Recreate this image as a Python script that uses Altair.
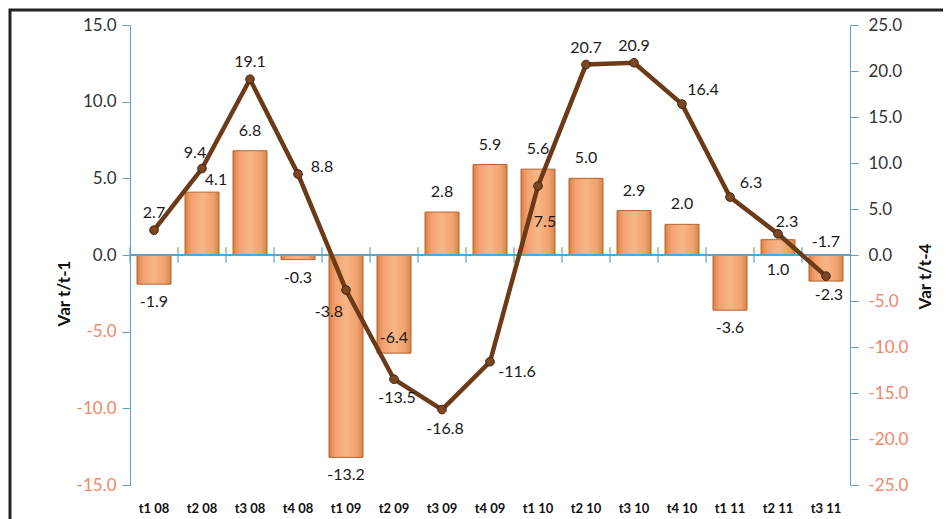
import altair as alt
import pandas as pd

quarters = ["t1 08", "t2 08", "t3 08", "t4 08", "t1 09", "t2 09", "t3 09", "t4 09",
            "t1 10", "t2 10", "t3 10", "t4 10", "t1 11", "t2 11", "t3 11"]
var_t1 = [-1.9, 4.1, 6.8, -0.3, -13.2, -6.4, 2.8, 5.9, 5.6, 5.0, 2.9, 2.0, -3.6, 1.0, -1.7]
var_t4 = [2.7, 9.4, 19.1, 8.8, -3.8, -13.5, -16.8, -11.6, 7.5, 20.7, 20.9, 16.4, 6.3, 2.3, -2.3]
bar_label_place = ["out", "outright", "out", "out", "out", "inside", "out", "out",
                   "out", "out", "out", "out", "out", "below_axis", "above_axis"]
line_label_place = ["above", "aboveleft", "above", "right", "belowleft", "below", "below", "rightlow",
                    "belowright", "above", "above", "upright", "upright", "upright_near", "below"]

df = pd.DataFrame({
    "quarter": quarters,
    "bar": var_t1,
    "line": var_t4,
    "bar_lab": [f"{v:.1f}" for v in var_t1],
    "line_lab": [f"{v:.1f}" for v in var_t4],
    "bpos": bar_label_place,
    "lpos": line_label_place,
})

FONT = "Lato"
AXIS_BLUE = "#5ba3c8"
NEG = "#f0866a"
label_color = {"condition": {"test": "datum.value < 0", "value": NEG}, "value": "#333333"}
lab_expr = "replace(format(datum.value, '.1f'), '\u2212', '-')"

x_scale = alt.Scale(paddingInner=0, paddingOuter=0)
x_axis = alt.Axis(title=None, domain=False, ticks=False, labelAngle=0,
                  labelPadding=17, labelFontWeight="bold", labelFontSize=13,
                  labelColor="#111111", labelFont=FONT)
x_enc = alt.X("quarter:N", sort=quarters, scale=x_scale, axis=x_axis)

left_scale = alt.Scale(domain=[-15, 15], nice=False)
left_axis = alt.Axis(title="Var t/t-1", values=[-15, -10, -5, 0, 5, 10, 15], labelExpr=lab_expr,
                     labelColor=label_color, labelFontSize=17, labelFont=FONT, labelPadding=6,
                     domainColor=AXIS_BLUE, tickColor=AXIS_BLUE, tickSize=8, grid=False,
                     titleFontWeight="bold", titleFontSize=17, titleColor="#111111", titleFont=FONT,
                     titleX=-66, titleY=268, titleAngle=270, titleBaseline="middle", titleAlign="center")
right_scale = alt.Scale(domain=[-25, 25], nice=False)
right_axis = alt.Axis(title="Var t/t-4", orient="right", values=list(range(-25, 30, 5)), labelExpr=lab_expr,
                      labelColor=label_color, labelFontSize=17, labelFont=FONT, labelPadding=10,
                      domainColor=AXIS_BLUE, tickColor=AXIS_BLUE, tickSize=8, grid=False,
                      titleFontWeight="bold", titleFontSize=17, titleColor="#111111", titleFont=FONT,
                      titleX=75, titleY=251, titleAngle=270, titleBaseline="middle", titleAlign="center")

def yl(f):
    return alt.Y(f, scale=left_scale, axis=left_axis)

def yr(f):
    return alt.Y(f, scale=right_scale, axis=right_axis)

base = alt.Chart(df)

bar_fill = alt.Gradient(
    gradient="linear", x1=0, x2=1, y1=0, y2=0,
    stops=[alt.GradientStop(color="#d98048", offset=0),
           alt.GradientStop(color="#f2a26f", offset=0.18),
           alt.GradientStop(color="#f7b586", offset=0.5),
           alt.GradientStop(color="#f2a26f", offset=0.82),
           alt.GradientStop(color="#d98048", offset=1)])

bars = base.mark_bar(size=34, fill=bar_fill, stroke="#b5642f", strokeWidth=1).encode(
    x=x_enc, y=yl("bar:Q"))

zero_line = base.mark_rule(color=AXIS_BLUE, strokeWidth=1.2).encode(y=yl("zero:Q")).transform_calculate(zero="0")

zero_ticks = base.mark_rule(color=AXIS_BLUE, strokeWidth=1.2).encode(
    x=alt.X("quarter:N", sort=quarters, bandPosition=0, scale=x_scale, axis=x_axis),
    y=yl("tlo:Q"), y2=alt.Y2("thi:Q")).transform_calculate(tlo="-0.5", thi="0.5")

txt = dict(font=FONT, fontSize=16, color="#1a1a1a", align="center", baseline="middle")

bar_label_layers = [
    base.mark_text(dy=-20, **txt).encode(x=x_enc, y=yl("bar:Q"), text="bar_lab:N")
        .transform_filter("datum.bpos == 'out' && datum.bar >= 0"),
    base.mark_text(dy=18, **txt).encode(x=x_enc, y=yl("bar:Q"), text="bar_lab:N")
        .transform_filter("datum.bpos == 'out' && datum.bar < 0"),
    base.mark_text(dx=14, dy=-12, **txt).encode(x=x_enc, y=yl("bar:Q"), text="bar_lab:N")
        .transform_filter("datum.bpos == 'outright'"),
    base.mark_text(dy=-15, **txt).encode(x=x_enc, y=yl("bar:Q"), text="bar_lab:N")
        .transform_filter("datum.bpos == 'inside'"),
    base.mark_text(dy=15, **txt).encode(x=x_enc, y=yl("zero:Q"), text="bar_lab:N")
        .transform_calculate(zero="0").transform_filter("datum.bpos == 'below_axis'"),
    base.mark_text(dy=-13, **txt).encode(x=x_enc, y=yl("zero:Q"), text="bar_lab:N")
        .transform_calculate(zero="0").transform_filter("datum.bpos == 'above_axis'"),
]

left = alt.layer(bars, zero_line, zero_ticks, *bar_label_layers)

line = base.mark_line(color="#6d3a17", strokeWidth=4.5).encode(x=x_enc, y=yr("line:Q"))
points = base.mark_circle(size=75, color="#7b4720", stroke="#45230a", strokeWidth=1, opacity=1).encode(
    x=x_enc, y=yr("line:Q"))

line_offsets = {
    "above": (0, -17),
    "aboveleft": (-7, -16),
    "right": (24, -7),
    "belowleft": (-17, 22),
    "below": (3, 19),
    "rightlow": (27, 10),
    "belowright": (7, 36),
    "upright": (21, -14),
    "upright_near": (9, -12),
}
line_label_layers = [
    base.mark_text(dx=dx, dy=dy, **txt).encode(x=x_enc, y=yr("line:Q"), text="line_lab:N")
        .transform_filter(f"datum.lpos == '{k}'")
    for k, (dx, dy) in line_offsets.items()
]

right = alt.layer(line, points, *line_label_layers)

frame = alt.Chart(pd.DataFrame({"a": [0]})).mark_rect(fill=None, stroke="#222222", strokeWidth=3).encode(
    x=alt.value(-120), x2=alt.value(840), y=alt.value(-15), y2=alt.value(520))

chart = alt.layer(left, right, frame).resolve_scale(y="independent").properties(
    width=720, height=460,
    autosize=alt.AutoSizeParams(type="none"),
    padding={"left": 122, "top": 17, "right": 93, "bottom": 34},
).configure(font=FONT).configure_view(stroke=None)

chart.save("out.html", embed_options={"renderer": "svg", "actions": False})
